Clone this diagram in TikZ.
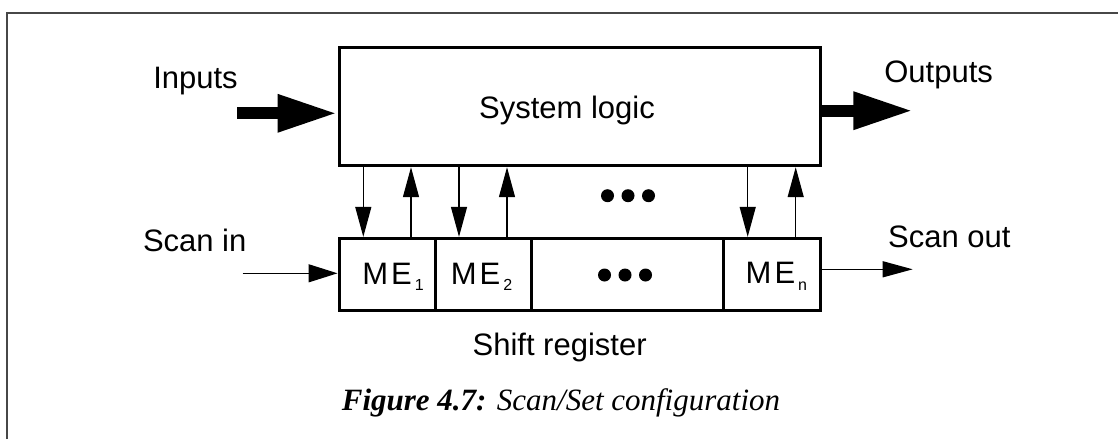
\documentclass[tikz,border=0pt]{standalone}
\usepackage{fontspec}
\setmainfont{Liberation Sans}
\newfontfamily\capfont{Liberation Serif}
\usetikzlibrary{arrows.meta}
\tikzset{
  blk/.style={draw, line width=3pt, inner sep=0pt, font=\fontsize{31}{31}\selectfont},
  lbl/.style={inner sep=0pt, anchor=base, font=\fontsize{31}{31}\selectfont},
  fat/.style={line width=12pt, -{Triangle[length=60pt, width=35pt]}},
  thin/.style={line width=1.3pt, -{Triangle[length=30pt, width=16pt]}},
  frameline/.style={draw=black!72, line width=2pt},
  dot/.style={fill=black, circle, inner sep=0pt, minimum size=13pt},
}
\newcommand{\ME}[1]{M\hspace{3pt}E\hspace{3pt}{\fontsize{16}{16}\selectfont\raisebox{-6.7pt}{#1}}}
\begin{document}
\begin{tikzpicture}[x=1pt, y=-1pt]
\useasboundingbox (0,0) rectangle (1118,439);
% frame
\coordinate (fb) at (6.5,439);
\coordinate (ft) at (6.5,12.5);
\coordinate (fr) at (1118,12.5);
\draw[frameline] (fb) -- (ft) -- (fr);
% system logic box
\node[blk, minimum width=481pt, minimum height=118.4pt] (box) at (579.5,106.5) {};
\node[lbl] (sl) at (567,118.3) {System logic};
% shift register cells
\node[blk, minimum width=96pt, minimum height=71.7pt] (me1) at (387,274.2) {};
\node[blk, minimum width=96pt, minimum height=71.7pt] (me2) at (483,274.2) {};
\node[blk, minimum width=192pt, minimum height=71.7pt] (mid) at (627,274.2) {};
\node[blk, minimum width=97pt, minimum height=71.7pt] (men) at (771.5,274.2) {};
\node[lbl] (t1) at (393,284) {\ME{1}};
\node[lbl] (t2) at (481.5,284) {\ME{2}};
\node[lbl] (tn) at (776.4,283.3) {\ME{n}};
% dots
\node[dot] (u1) at (607.5,195.7) {};
\node[dot] (u2) at (628,195.7) {};
\node[dot] (u3) at (648.5,195.7) {};
\node[dot] (l1) at (604.5,275) {};
\node[dot] (l2) at (625,275) {};
\node[dot] (l3) at (645.5,275) {};
% labels
\node[lbl] (inl) at (195.5,88.3) {Inputs};
\node[lbl] (outl) at (938.6,82.8) {Outputs};
\node[lbl] (sinl) at (194.7,251) {Scan in};
\node[lbl] (soutl) at (949.3,247.3) {Scan out};
\node[lbl] (srl) at (559.6,355) {Shift register};
\node[inner sep=0pt, anchor=base, font=\capfont\fontsize{31}{31}\selectfont] (cap) at (561,410)
  {\textbf{\textit{Figure 4.7:}} \textit{Scan/Set configuration}};
% thick arrows
\coordinate (inS) at (237.3,113.3);
\coordinate (outE) at (913.3,110.7);
\draw[fat] (inS) -- (inS -| box.west);
\draw[fat] (outE -| box.east) -- (outE);
% vertical arrows
\coordinate (d1) at (363.3,0);
\coordinate (a1) at (411,0);
\coordinate (d2) at (459,0);
\coordinate (a2) at (507,0);
\coordinate (dn) at (747.7,0);
\coordinate (an) at (795.7,0);
\draw[thin] (d1 |- box.south) -- (d1 |- me1.north);
\draw[thin] (a1 |- me1.north) -- (a1 |- box.south);
\draw[thin] (d2 |- box.south) -- (d2 |- me2.north);
\draw[thin] (a2 |- me2.north) -- (a2 |- box.south);
\draw[thin] (dn |- box.south) -- (dn |- men.north);
\draw[thin] (an |- men.north) -- (an |- box.south);
% scan arrows
\coordinate (sinS) at (242.7,273.3);
\coordinate (soutE) at (912.7,269.3);
\draw[thin, -{Triangle[length=29pt, width=18pt]}] (sinS) -- (sinS -| me1.west);
\draw[thin] (soutE -| men.east) -- (soutE);
\end{tikzpicture}
\end{document}
